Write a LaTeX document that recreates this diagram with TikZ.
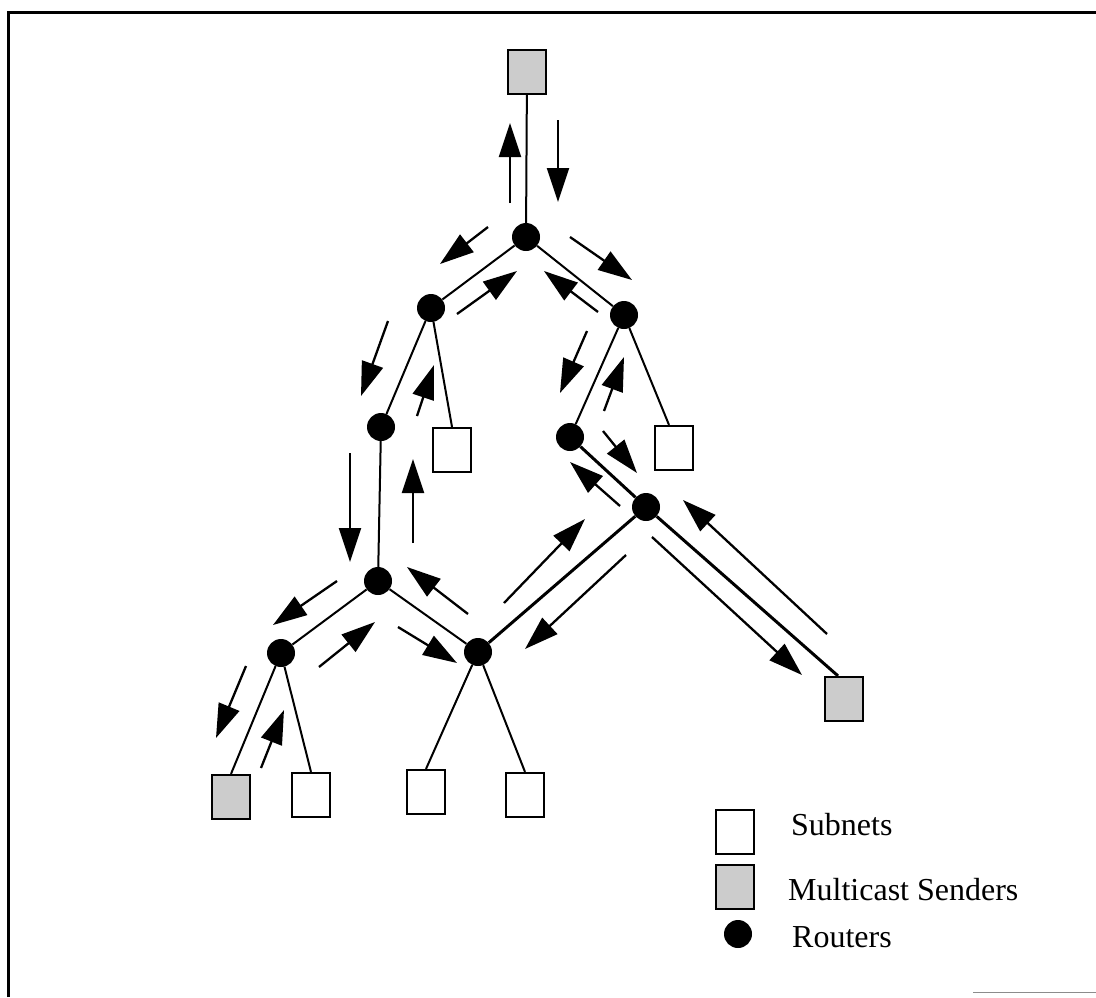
\documentclass[tikz,border=0pt]{standalone}
\usepackage{fontspec}
\setmainfont{Liberation Serif}
\usetikzlibrary{arrows.meta}
\begin{document}
\begin{tikzpicture}[x=1pt,y=-1pt,
 router/.style={circle,fill=black,inner sep=0pt,minimum size=28pt},
 subnet/.style={rectangle,draw=black,line width=2.2pt,fill=white,inner sep=0pt,minimum width=38pt,minimum height=44pt},
 sender/.style={subnet,fill=black!20},
 link/.style={line width=2pt},
 trunk/.style={line width=3pt},
 flow/.style={line width=2.3pt,-{Triangle[length=34pt,width=22pt]}},
 lbl/.style={font=\fontsize{32}{36}\selectfont,anchor=base west,inner sep=0pt}
]
\useasboundingbox (0,0) rectangle (1096,997);
% frame
\draw[line width=3pt] (8,997) -- (8,12) -- (1096,12);
\draw[line width=1pt,black!45] (973,992) -- (1096,992);

% nodes
\node[sender] (S0) at (527,72) {};
\node[router] (R1) at (526,237) {};
\node[router] (R2) at (431,308) {};
\node[router] (R3) at (624,315) {};
\node[router] (R4) at (381,427) {};
\node[subnet] (BA) at (452,450) {};
\node[router] (R5) at (570,437) {};
\node[subnet] (BB) at (674,448) {};
\node[router] (R6) at (646,507) {};
\node[sender] (S2) at (844,699) {};
\node[router] (R7) at (378,581) {};
\node[router] (R8) at (281,653) {};
\node[router] (R9) at (478,652) {};
\node[sender] (S1) at (231,797) {};
\node[subnet] (B1) at (311,795) {};
\node[subnet] (B2) at (426,792) {};
\node[subnet] (B3) at (525,795) {};

% links
\draw[link] (S0) -- (R1);
\draw[link] (R1) -- (R2);
\draw[link] (R1) -- (R3);
\draw[link] (R2) -- (R4);
\draw[link] (R2) -- (BA.north);
\draw[link] (R3) -- (R5);
\draw[link] (R3) -- ([xshift=-5pt]BB.north);
\draw[link] (R4) -- (R7);
\draw[link] (R7) -- (R8);
\draw[link] (R7) -- (R9);
\draw[link] (R8) -- (S1.north);
\draw[link] (R8) -- (B1.north);
\draw[link] (R9) -- (B2.north);
\draw[link] (R9) -- (B3.north);
\draw[trunk] (R5) -- (R6);
\draw[trunk] (R9) -- (R6);
\draw[trunk] (R6) -- ([xshift=-6pt]S2.north);

% flow arrows
\draw[flow] (510,203) -- (510,123);
\draw[flow] (558,120) -- (558,202);
\draw[flow] (488,227) -- (440,264);
\draw[flow] (457,314) -- (517,271);
\draw[flow] (570,237) -- (632,280);
\draw[flow] (598,312) -- (544,271);
\draw[flow] (388,321) -- (361,396);
\draw[flow] (417,416) -- (434,365);
\draw[flow] (587,331) -- (560,393);
\draw[flow] (604,411) -- (624,357);
\draw[flow] (603,431) -- (637,473);
\draw[flow] (620,506) -- (570,462);
\draw[flow] (827,634) -- (683,500);
\draw[flow] (652,537) -- (802,675);
\draw[flow] (504,603) -- (585,519);
\draw[flow] (626,555) -- (525,649);
\draw[flow] (350,453) -- (350,562);
\draw[flow] (413,543) -- (413,459);
\draw[flow] (468,614) -- (407,567);
\draw[flow] (337,581) -- (273,625);
\draw[flow] (319,667) -- (375,622);
\draw[flow] (398,627) -- (457,663);
\draw[flow] (246,666) -- (216,738);
\draw[flow] (261,768) -- (284,710);

% legend
\node[subnet] (LS) at (735,832) {};
\node[sender] (LM) at (735,887) {};
\node[router] (LR) at (738,934) {};
\node[lbl] (TS) at (791,835) {Subnets};
\node[lbl] (TM) at (788,900) {Multicast Senders};
\node[lbl] (TR) at (792,947) {Routers};
\end{tikzpicture}
\end{document}
